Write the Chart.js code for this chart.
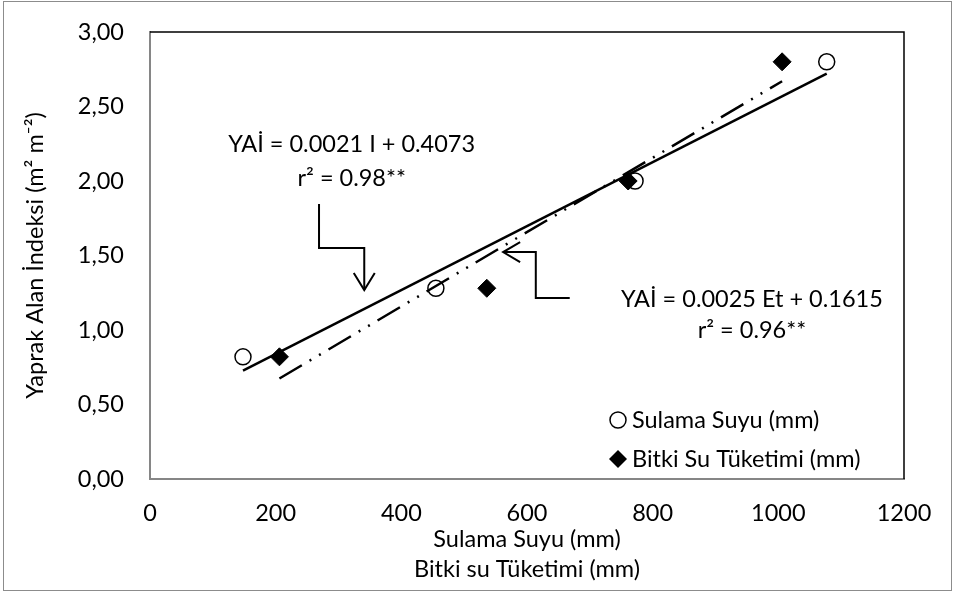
<!DOCTYPE html>
<html>
<head>
<meta charset="utf-8">
<script src="https://cdn.jsdelivr.net/npm/chart.js@4.4.1/dist/chart.umd.min.js"></script>
<style>
  html, body { margin: 0; padding: 0; background: #ffffff; }
  #wrap { width: 955px; height: 592px; position: relative; }
</style>
</head>
<body>
<div id="wrap"><canvas id="laiChart"></canvas></div>
<script>
// irrigation water (I) and crop water use (Et), mm, against leaf area index
const sulamaX = [148, 455, 772, 1077];
const sulamaY = [0.82, 1.28, 2.00, 2.80];
const bitkiX = [206, 536, 761, 1006];
const bitkiY = [0.82, 1.28, 2.00, 2.80];

const xTicks = [0, 200, 400, 600, 800, 1000, 1200];
const yTicks = [0, 0.5, 1, 1.5, 2, 2.5, 3];

const sulamaEq = ['YAİ = 0.0021 I + 0.4073', 'r² = 0.98**'];
const bitkiEq = ['YAİ = 0.0025 Et + 0.1615', 'r² = 0.96**'];

const FONT = 'Lato';
const FS = 23.5;

// least squares line over the x range of a series (same as a linear trendline)
function fitLine(xs, ys) {
  const n = xs.length;
  const mx = xs.reduce((a, b) => a + b, 0) / n;
  const my = ys.reduce((a, b) => a + b, 0) / n;
  let sxy = 0;
  let sxx = 0;
  xs.forEach((x, i) => {
    sxy += (x - mx) * (ys[i] - my);
    sxx += (x - mx) * (x - mx);
  });
  const slope = sxy / sxx;
  const icpt = my - slope * mx;
  const lo = Math.min(...xs);
  const hi = Math.max(...xs);
  return [{ x: lo, y: icpt + slope * lo }, { x: hi, y: icpt + slope * hi }];
}

const toPoints = (xs, ys) => xs.map((x, i) => ({ x, y: ys[i] }));

// outer frame + black top/right edge of the plot box
const framePlugin = {
  id: 'frame',
  beforeDraw(chart) {
    const { ctx } = chart;
    ctx.save();
    ctx.strokeStyle = '#8c8c8c';
    ctx.lineWidth = 1;
    ctx.strokeRect(3.5, 1.5, 948, 589);
    ctx.restore();
  },
  afterDraw(chart) {
    const { ctx, chartArea: a } = chart;
    ctx.save();
    ctx.strokeStyle = '#000000';
    ctx.lineWidth = 1.5;
    ctx.beginPath();
    ctx.moveTo(a.left, a.top);
    ctx.lineTo(a.right, a.top);
    ctx.lineTo(a.right, a.bottom);
    ctx.stroke();
    ctx.restore();
  }
};

// equation labels, bent arrows and the in-plot legend
const notesPlugin = {
  id: 'notes',
  afterDatasetsDraw(chart) {
    const { ctx, chartArea: a } = chart;
    const sx = chart.scales.x;
    const sy = chart.scales.y;
    const px = (x) => sx.getPixelForValue(x);
    const py = (y) => sy.getPixelForValue(y);

    ctx.save();
    ctx.fillStyle = '#000000';
    ctx.font = FS + 'px ' + FONT;
    ctx.textAlign = 'center';
    ctx.textBaseline = 'middle';
    ctx.fillText(sulamaEq[0], px(321), py(2.245));
    ctx.fillText(sulamaEq[1], px(321), py(2.02));
    ctx.fillText(bitkiEq[0], px(958), py(1.205));
    ctx.fillText(bitkiEq[1], px(958), py(0.995));

    ctx.strokeStyle = '#000000';
    ctx.lineWidth = 2;
    ctx.lineJoin = 'miter';

    function bent(path, back, half) {
      const pts = path.map(([x, y]) => [px(x), py(y)]);
      ctx.beginPath();
      ctx.moveTo(pts[0][0], pts[0][1]);
      for (let i = 1; i < pts.length; i++) ctx.lineTo(pts[i][0], pts[i][1]);
      ctx.stroke();
      const [tx, ty] = pts[pts.length - 1];
      const [fx, fy] = pts[pts.length - 2];
      const len = Math.hypot(tx - fx, ty - fy);
      const ux = (tx - fx) / len;
      const uy = (ty - fy) / len;
      ctx.beginPath();
      ctx.moveTo(tx - ux * back - uy * half, ty - uy * back + ux * half);
      ctx.lineTo(tx, ty);
      ctx.lineTo(tx - ux * back + uy * half, ty - uy * back - ux * half);
      ctx.stroke();
    }
    bent([[269, 1.846], [269, 1.55], [341, 1.55], [341, 1.268]], 17, 10.5);
    bent([[668, 1.215], [614, 1.215], [614, 1.523], [562, 1.523]], 17, 10);

    // legend
    const lx = a.right - 286;
    const rows = [a.bottom - 59, a.bottom - 20];
    ctx.lineWidth = 1.5;
    ctx.beginPath();
    ctx.arc(lx, rows[0], 8, 0, Math.PI * 2);
    ctx.fillStyle = '#ffffff';
    ctx.fill();
    ctx.stroke();
    ctx.fillStyle = '#000000';
    ctx.beginPath();
    ctx.moveTo(lx, rows[1] - 9);
    ctx.lineTo(lx + 9, rows[1]);
    ctx.lineTo(lx, rows[1] + 9);
    ctx.lineTo(lx - 9, rows[1]);
    ctx.closePath();
    ctx.fill();
    ctx.textAlign = 'left';
    ctx.fillText(chart.data.datasets[0].label, lx + 14, rows[0]);
    ctx.fillText(chart.data.datasets[1].label, lx + 14, rows[1]);
    ctx.restore();
  }
};

new Chart(document.getElementById('laiChart'), {
  type: 'scatter',
  data: {
    datasets: [
      {
        label: 'Sulama Suyu (mm)',
        data: toPoints(sulamaX, sulamaY),
        pointStyle: 'circle',
        pointRadius: 8,
        backgroundColor: '#ffffff',
        borderColor: '#000000',
        borderWidth: 1.5,
        order: 3,
      },
      {
        label: 'Bitki Su Tüketimi (mm)',
        data: toPoints(bitkiX, bitkiY),
        pointStyle: 'rectRot',
        pointRadius: 9,
        backgroundColor: '#000000',
        borderColor: '#000000',
        borderWidth: 1,
        order: 2,
      },
      {
        label: 'trend I',
        data: fitLine(sulamaX, sulamaY),
        showLine: true,
        pointRadius: 0,
        borderColor: '#000000',
        borderWidth: 2.5,
        order: 1,
      },
      {
        label: 'trend Et',
        data: fitLine(bitkiX, bitkiY),
        showLine: true,
        pointRadius: 0,
        borderColor: '#000000',
        borderWidth: 2.5,
        borderDash: [26, 9, 2, 9, 2, 9],
        order: 1,
      },
    ],
  },
  options: {
    responsive: true,
    maintainAspectRatio: false,
    animation: false,
    layout: { padding: { top: 32, right: 51, left: 0, bottom: 0 } },
    plugins: {
      legend: { display: false },
      tooltip: { enabled: false },
    },
    scales: {
      x: {
        type: 'linear',
        min: 0,
        max: 1200,
        afterBuildTicks(scale) { scale.ticks = xTicks.map((v) => ({ value: v })); },
        afterFit(scale) { scale.height = 113; },
        grid: { display: false, drawTicks: false },
        border: { color: '#868686', width: 2 },
        ticks: {
          color: '#000000',
          padding: 20,
          maxRotation: 0,
          font: { family: FONT, size: FS },
          callback: (v) => String(v),
        },
        title: {
          display: true,
          text: ['Sulama Suyu (mm)', 'Bitki su Tüketimi (mm)'],
          color: '#000000',
          padding: { top: 0, bottom: 8 },
          font: { family: FONT, size: FS, lineHeight: '30px' },
        },
      },
      y: {
        type: 'linear',
        min: 0,
        max: 3,
        afterBuildTicks(scale) { scale.ticks = yTicks.map((v) => ({ value: v })); },
        afterFit(scale) {
          scale.width = 150;
          // label overhang fits inside the layout padding already
          scale.paddingTop = 0;
          scale.paddingBottom = 0;
        },
        grid: { display: false, drawTicks: false },
        border: { color: '#868686', width: 2 },
        ticks: {
          color: '#000000',
          padding: 26,
          font: { family: FONT, size: FS },
          callback: (v) => v.toFixed(2).replace('.', ','),
        },
        title: {
          display: true,
          text: 'Yaprak Alan İndeksi (m² m⁻²)',
          color: '#000000',
          padding: { top: 21, bottom: 0 },
          font: { family: FONT, size: FS },
        },
      },
    },
  },
  plugins: [framePlugin, notesPlugin],
});
</script>
</body>
</html>
